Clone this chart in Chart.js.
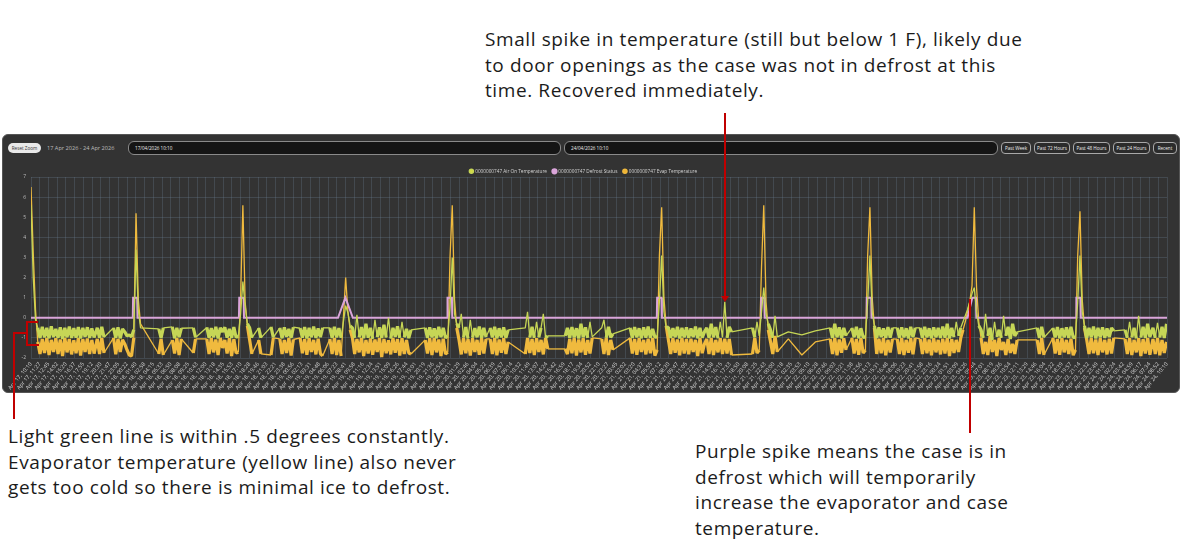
<!DOCTYPE html>
<html>
<head>
<meta charset="utf-8">
<script src="https://cdn.jsdelivr.net/npm/chart.js@4.4.1/dist/chart.umd.min.js"></script>
<style>
  html, body { margin: 0; padding: 0; background: #fff; }
  body { width: 1181px; height: 550px; position: relative; overflow: hidden; font-family: "Open Sans", sans-serif; }
  .note { position: absolute; font-size: 19px; letter-spacing: 0.6px; line-height: 25.7px; color: #1b1b1b; white-space: nowrap; }
  .red { position: absolute; background: #c00000; }
  #panel { position: absolute; left: 2px; top: 134px; width: 1176px; height: 257px; background: #333333; border: 1px solid #565656; border-radius: 6px; }
  .pill { position: absolute; box-sizing: border-box; font-size: 4.6px; color: #eee; border: 1px solid #a8a8a8; border-radius: 4px; background: #2b2b2b; text-align: center; line-height: 10px; height: 12px; top: 142px; }
  .field { position: absolute; box-sizing: border-box; top: 141px; height: 14px; background: #151515; border: 1px solid #8a8a8a; border-radius: 6px; font-size: 4.6px; color: #eee; line-height: 12px; padding-left: 6px; }
  #wrap { position: absolute; left: 0; top: 160px; width: 1181px; height: 234px; }
</style>
</head>
<body>

<div class="note" style="left:485px; top:27px;">Small spike in temperature (still but below 1 F), likely due<br>to door openings as the case was not in defrost at this<br>time. Recovered immediately.</div>
<div class="note" style="left:8px; top:424px;">Light green line is within .5 degrees constantly.<br>Evaporator temperature (yellow line) also never<br>gets too cold so there is minimal ice to defrost.</div>
<div class="note" style="left:695px; top:439px;">Purple spike means the case is in<br>defrost which will temporarily<br>increase the evaporator and case<br>temperature.</div>

<div id="panel"></div>
<div style="position:absolute; left:8px; top:143px; width:33px; height:10px; background:#e9e9e9; border-radius:5px; font-size:4.6px; color:#333; text-align:center; line-height:10px;">Reset Zoom</div>
<div style="position:absolute; left:47px; top:144px; font-size:5.6px; color:#bdbdbd; line-height:8px;">17 Apr 2026 - 24 Apr 2026</div>
<div class="field" style="left:128px; width:433px;">17/04/2026 10:10</div>
<div class="field" style="left:564px; width:434px;">24/04/2026 10:10</div>
<div class="pill" style="left:1001px; width:30px;">Past Week</div>
<div class="pill" style="left:1034px; width:36px;">Past 72 Hours</div>
<div class="pill" style="left:1073px; width:37px;">Past 48 Hours</div>
<div class="pill" style="left:1113px; width:37px;">Past 24 Hours</div>
<div class="pill" style="left:1153px; width:24px;">Recent</div>

<div id="wrap"><canvas id="chart" width="1181" height="234"></canvas></div>

<div class="red" style="left:724px; top:113px; width:2px; height:185px;"></div>
<div style="position:absolute; left:721px; top:296px; width:0; height:0; border-left:4px solid transparent; border-right:4px solid transparent; border-top:6px solid #c00000;"></div>
<div class="red" style="left:969px; top:299px; width:2px; height:134px;"></div>
<div class="red" style="left:26px; top:321px; width:2px; height:25px;"></div>
<div class="red" style="left:26px; top:321px; width:12px; height:2px;"></div>
<div class="red" style="left:26px; top:344px; width:13px; height:2px;"></div>
<div class="red" style="left:13px; top:332px; width:14px; height:2px;"></div>
<div class="red" style="left:13px; top:332px; width:2px; height:87px;"></div>

<script>
// readings every 20 minutes, x in hours since 17 Apr 2026 10:10
var STEP = 1 / 3;
var startMs = Date.UTC(2026, 3, 17, 10, 10);
var monthNames = ['Jan','Feb','Mar','Apr','May','Jun','Jul','Aug','Sep','Oct','Nov','Dec'];
var seriesNames = ['0000000747 Air On Temperature', '0000000747 Defrost Status', '0000000747 Evap Temperature'];

var airOnRuns = [
  [0, [5.6,2.0,-0.1,-0.5,-1.0,-0.45,-0.98,-0.5,-1.02,-0.42,-0.96,-0.55,-1.0,-0.48,-1.05,-0.5,-0.97,-0.44,-1.0,-0.52,-0.99,-0.46,-1.03,-0.5,-0.95,-0.47,-1.0,-0.53,-0.98]],
  [9.8, [-0.5,-1.0,-0.45,-0.97]],
  [12.2, [-0.5,-1.0,-0.48,-1.02,-0.55,-0.7,-0.9,-0.85,-0.95,-0.6,3.4,0.4,-0.5]],
  [18.9, [-0.55,-1.0,-0.5]],
  [20.9, [-0.45,-1.02,-0.5,-0.96,-0.52]],
  [24.0, [-0.5,-0.98]],
  [26.0, [-0.48,-1.0,-0.52,-0.97,-0.45,-1.03,-0.5,-0.7,-0.47,-0.99,-0.55,-1.0,-0.46,-0.98,-0.9,0.2,1.8,0.6,-0.3,-0.5,-1.0]],
  [33.67, [-0.5,-1.0]],
  [35.5, [-0.45,-0.98]],
  [36.8, [-0.5,-1.02,-0.48,-0.95,-0.55,-1.0,-0.47]],
  [39.8, [-0.52,-0.99,-0.46,-1.03,-0.5,-0.97,-0.44,-1.0,-0.53,-0.96,-0.5]],
  [44.2, [-0.5,-1.0,-0.45,-0.98,-0.52,-1.0,-0.2,0.6,0.25,-0.4,-0.5,-1.0,0.15,-0.97,-0.46,-1.02,-0.3,-0.99,-0.5,-1.05,-0.1,-0.96,-0.48,-1.0,-0.35,-0.98,0.0,-1.03,-0.5,-0.95,-0.42,-1.0,-0.2,-0.97,-0.55,-1.01,-0.6]],
  [58.3, [-0.5,-1.0,-0.47,-0.98,-0.53,-1.02,-0.45,-0.96,-0.5,-1.0,-0.9,0.5,3.0,0.2,-0.3,-0.5,0.2,-0.98,-0.46,-1.03,-0.1,-0.99,-0.52,-0.97,-0.44,-1.0,-0.5,-0.96]],
  [67.9, [-0.5,-0.98,-0.45,-1.02,-0.52,-0.97,-0.48,-1.0,-0.6]],
  [73.1, [-0.5,0.3,-0.98,-0.45,-1.0,-0.2,-0.97,-0.5,0.2,-1.0,-0.9]],
  [79.0, [-0.9,-0.5,-1.0,-0.46,-0.98,-0.52,-1.03,-0.3,-0.97,-0.48,-1.0,-0.2,-0.95]],
  [84.4, [-0.5,-0.1,-1.0,-0.45,-0.98,-0.8]],
  [88.6, [-0.5,-1.0,-0.46,-0.97,-0.52,-1.02,-0.48,-0.99,-0.44,-1.0,-0.55,-0.96,-0.95,0.8,3.1,0.3,-0.5,-0.48,-1.0,-0.52,-0.97,-0.45,-1.03,-0.5,-0.98,-0.47,-1.0,-0.53,-0.96,-0.44,-1.02,-0.5,-0.99,-0.7,-0.5,-1.0,-0.3,-0.97,-0.46,-1.02,-0.2,-0.98,0.8,-1.0,-0.45,-0.7]],
  [106.7, [-0.5,-0.98,-0.2,-0.9,0.3,1.5,0.2,-0.3,-0.6,-1.0,0.1,-0.95]],
  [112.0, [-0.7]], [114.0, [-0.85]], [116.0, [-0.65]],
  [118.2, [-0.5,-1.0,-0.3,-0.97,-0.48,-1.02,-0.5,-0.9]],
  [121.4, [-0.5,-0.97,-0.45,-1.02,-0.52,-0.98,-0.95,0.8,3.1,0.3,-0.4,-1.0,-0.48,-0.96,-0.53,-1.0,-0.46,-0.99,-0.5]],
  [128.1, [-0.5,-1.0,-0.47,-0.98,-0.52,-1.03,-0.45,-0.96,-0.5]],
  [131.5, [-0.5,-1.0,-0.45,-0.98,-0.52,-1.02,-0.48,-0.97,-0.5,-1.0,-0.44,-0.99,-0.3,-1.03,-0.5,-0.96,-0.2,-0.9,-0.5,-0.2,0.1,0.4,0.8,1.2,1.5,0.3,-0.4,-0.6,-1.0,0.2,-0.9,-0.5,-1.1,-0.2,-0.95,-0.6,-1.0,0.1,-0.9,-0.45,-1.05,-0.3,-0.9,-0.7]],
  [148.8, [-0.5,-1.0,-0.45,-0.98]],
  [151.13, [-0.5,-0.98,-0.46,-1.02,-0.52,-0.97,-0.48,-1.0,-0.45,-0.99,-0.95,0.8,3.1,0.3,-0.4,-1.0,-0.5,-0.97,-0.44,-1.03,-0.5,-0.98,-0.47,-1.0,-0.53,-0.96,-0.5,-0.65]],
  [161.8, [-0.6,-1.0,-0.2,-0.97,-0.5,-1.02,0.1,-0.98,-0.45,-1.0,-0.3,-0.95]],
  [165.93, [-0.5,-1.0,-0.25,-0.98,-0.45,-1.0,-0.3]]
];

var evapRuns = [
  [0, [6.5,3.2,0.4,-1.2,-1.8,-1.05,-1.75,-1.0,-1.85,-1.1,-1.7,-1.02,-1.8,-1.08,-1.9,-1.0,-1.72,-1.05,-1.82,-1.12,-1.76,-1.0,-1.88,-1.06,-1.7,-1.03,-1.8,-1.1,-1.78]],
  [9.8, [-1.05,-1.8,-1.0,-1.75]],
  [12.2, [-1.0,-1.82,-1.05,-1.7,-1.1,-1.3,-1.6,-1.85,-1.9,-1.0,5.2,0.9,-0.3]],
  [18.9, [-1.8,-1.05,-1.85]],
  [20.9, [-1.1,-1.78,-1.0,-1.85,-1.05]],
  [24.0, [-1.75,-1.05]],
  [26.0, [-1.05,-1.8,-1.0,-1.72,-1.08,-1.85,-1.0,-1.5,-1.1,-1.78,-1.02,-1.9,-1.06,-1.75,-1.7,1.0,5.6,0.8,-0.4,-1.1,-1.8]],
  [33.67, [-1.1,-1.8]],
  [35.5, [-1.85,-1.0]],
  [36.8, [-1.05,-1.8,-1.1,-1.75,-1.0,-1.88,-1.08]],
  [39.8, [-1.0,-1.76,-1.06,-1.84,-1.02,-1.7,-1.1,-1.82,-1.04,-1.78,-1.9]],
  [44.2, [-1.05,-1.8,-1.0,-1.85,-1.1,-1.9,0.0,2.0,0.3,-0.6,-1.0,-1.8,-1.06,-1.72,-1.0,-1.9,-1.1,-1.78,-1.03,-1.84,-1.08,-1.7,-1.0,-1.95,-1.05,-1.76,-1.12,-1.82,-1.0,-1.74,-1.06,-1.88,-1.02,-1.8,-1.1,-1.75,-1.8]],
  [58.3, [-1.1,-1.78,-1.02,-1.85,-1.0,-1.72,-1.08,-1.9,-1.04,-1.8,-1.7,3.0,5.6,0.9,-0.5,-1.1,-1.82,-1.0,-1.76,-1.06,-1.88,-1.02,-1.7,-1.1,-1.84,-1.0,-1.78,-1.05]],
  [67.9, [-1.05,-1.8,-1.0,-1.86,-1.08,-1.74,-1.02,-1.8,-1.2]],
  [73.1, [-1.8,-1.0,-1.75,-1.06,-1.85,-1.02,-1.7,-1.1,-1.82,-1.0,-1.55]],
  [79.0, [-1.55,-1.8,-1.05,-1.76,-1.0,-1.88,-1.08,-1.72,-1.02,-1.84,-1.1,-1.78,-1.0]],
  [84.4, [-1.05,-1.8,-1.0,-1.85,-1.1,-1.6]],
  [88.6, [-1.0,-1.78,-1.06,-1.84,-1.02,-1.7,-1.1,-1.82,-1.04,-1.76,-1.0,-1.88,-1.6,3.1,5.5,1.0,-0.4,-1.1,-1.8,-1.02,-1.74,-1.08,-1.86,-1.0,-1.78,-1.06,-1.82,-1.04,-1.7,-1.1,-1.9,-1.0,-1.76,-1.3,-1.05,-1.8,-1.0,-1.85,-1.1,-1.72,-1.02,-1.8,-1.04,-1.78,-1.06,-1.85]],
  [106.7, [-1.8,-1.0,-1.75,-1.6,2.5,5.6,0.8,-0.6,-1.2,-1.8,-0.9,-1.7]],
  [112.0, [-1.05]], [114.0, [-1.85]], [116.0, [-1.2]],
  [118.2, [-1.05,-1.8,-1.0,-1.86,-1.08,-1.74,-1.02,-1.6]],
  [121.4, [-1.0,-1.78,-1.06,-1.84,-1.02,-1.75,-1.6,3.1,5.5,1.0,-0.5,-1.8,-1.04,-1.76,-1.0,-1.86,-1.1,-1.72,-1.05]],
  [128.1, [-1.06,-1.8,-1.0,-1.85,-1.1,-1.74,-1.02,-1.82,-1.0]],
  [131.5, [-1.05,-1.8,-1.0,-1.76,-1.08,-1.86,-1.02,-1.72,-1.1,-1.82,-1.04,-1.78,-1.0,-1.9,-1.06,-1.75,-1.1,-1.7,-1.0,-0.6,-0.2,0.3,0.8,1.6,5.5,1.5,-0.2,-1.0,-1.8,-1.2,-1.85,-0.9,-1.7,-1.1,-1.9,-1.0,-1.6,-1.2,-1.85,-1.05,-1.75,-1.3,-1.8,-1.1]],
  [148.8, [-1.1,-1.8,-1.0,-1.85]],
  [151.13, [-1.0,-1.78,-1.06,-1.84,-1.02,-1.72,-1.1,-1.8,-1.04,-1.86,-1.6,3.1,5.3,0.9,-0.5,-1.1,-1.8,-1.0,-1.76,-1.08,-1.85,-1.02,-1.72,-1.1,-1.82,-1.04,-1.78,-1.0]],
  [161.8, [-1.05,-1.8,-1.0,-1.85,-1.1,-1.72,-1.02,-1.9,-1.06,-1.78,-1.0,-1.84]],
  [165.93, [-1.06,-1.8,-1.0,-1.86,-1.1,-1.75,-1.2]]
];

// defrost status changes [hour, state]
var defrostPoints = [
  [0,0],
  [15.05,0],[15.1,1],[15.7,1],[15.75,0],
  [30.75,0],[30.8,1],[31.45,1],[31.5,0],
  [45.4,0],[46.5,1],[47.6,0],
  [61.55,0],[61.6,1],[62.25,1],[62.3,0],
  [92.55,0],[92.6,1],[93.25,1],[93.3,0],
  [107.95,0],[108.0,1],[108.45,1],[108.5,0],
  [123.55,0],[123.6,1],[124.25,1],[124.3,0],
  [138.5,0],[139.2,1],[139.75,1],[139.8,0],
  [154.55,0],[154.6,1],[155.2,1],[155.25,0],
  [168,0]
];

var yTicks = [-2, -1, 0, 1, 2, 3, 4, 5, 6, 7];

function expand(runs) {
  var pts = [];
  runs.forEach(function (run) {
    run[1].forEach(function (v, i) { pts.push({ x: run[0] + i * STEP, y: v }); });
  });
  return pts;
}

function fmtTick(h) {
  var d = new Date(startMs + h * 3600000);
  var hh = String(d.getUTCHours()).padStart(2, '0');
  var mm = String(d.getUTCMinutes()).padStart(2, '0');
  return monthNames[d.getUTCMonth()] + ' ' + d.getUTCDate() + ', ' + hh + ':' + mm;
}

// consecutive readings inside the normal band are drawn heavier, like the packed trace
function bandWidth(c) {
  var a = c.p0.parsed, b = c.p1.parsed;
  if (a.y < -0.25 && b.y < -0.25 && (b.x - a.x) < 0.5) return 3.2;
  return 1.3;
}

var gridColor = 'rgba(105,125,145,0.3)';

var ctx = document.getElementById('chart').getContext('2d');
var chart = new Chart(ctx, {
  type: 'line',
  data: {
    datasets: [{
      label: seriesNames[0],
      data: expand(airOnRuns),
      borderColor: 'rgb(198,214,86)',
      backgroundColor: 'rgb(212,220,70)',
      borderWidth: 1.3,
      borderJoinStyle: 'bevel',
      segment: { borderWidth: bandWidth }
    }, {
      label: seriesNames[1],
      data: defrostPoints.map(function (p) { return { x: p[0], y: p[1] }; }),
      borderColor: 'rgb(218,165,218)',
      backgroundColor: 'rgb(218,165,218)',
      borderWidth: 2
    }, {
      label: seriesNames[2],
      data: expand(evapRuns),
      borderColor: 'rgb(240,186,62)',
      backgroundColor: 'rgb(240,180,50)',
      borderWidth: 1.3,
      borderJoinStyle: 'bevel',
      segment: { borderWidth: bandWidth }
    }]
  },
  options: {
    responsive: false,
    animation: false,
    devicePixelRatio: 1,
    elements: { point: { radius: 0 }, line: { tension: 0 } },
    layout: { padding: { left: 0, right: 14, top: 3, bottom: 0 } },
    plugins: {
      tooltip: { enabled: false },
      legend: {
        position: 'top',
        maxHeight: 14,
        labels: {
          color: '#d4d4d4',
          font: { size: 4.7, family: 'Open Sans' },
          usePointStyle: true,
          pointStyle: 'circle',
          boxWidth: 3,
          boxHeight: 3,
          padding: 6
        }
      }
    },
    scales: {
      x: {
        type: 'linear',
        min: 0,
        max: 168,
        afterFit: function (s) { s.height = 36; },
        grid: { color: gridColor, drawTicks: false },
        border: { display: false },
        ticks: {
          count: 131,
          autoSkip: false,
          minRotation: 50,
          maxRotation: 50,
          padding: 3,
          color: '#d2d2d2',
          font: { size: 5.5, family: 'Open Sans' },
          callback: function (v) { return fmtTick(v); }
        }
      },
      y: {
        min: yTicks[0],
        max: yTicks[yTicks.length - 1],
        afterFit: function (s) { s.width = 31; },
        afterBuildTicks: function (s) { s.ticks = yTicks.map(function (v) { return { value: v }; }); },
        grid: { color: gridColor, drawTicks: false },
        border: { display: false },
        ticks: {
          padding: 5,
          color: '#bdbdbd',
          font: { size: 5, family: 'Open Sans' }
        }
      }
    }
  }
});
</script>
</body>
</html>
